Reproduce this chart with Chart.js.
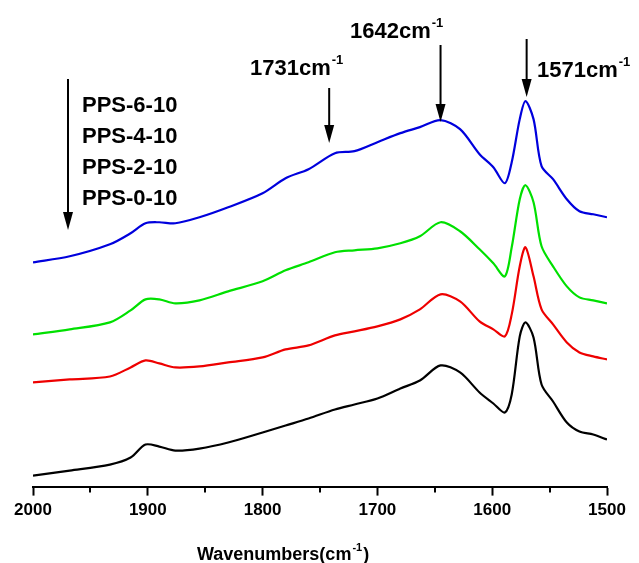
<!DOCTYPE html>
<html>
<head>
<meta charset="utf-8">
<script src="https://cdn.jsdelivr.net/npm/chart.js@4/dist/chart.umd.min.js"></script>
<style>
  html, body { margin: 0; padding: 0; background: #fff; }
  #wrap { width: 639px; height: 563px; position: relative; }
</style>
</head>
<body>
<div id="wrap"><canvas id="ftir"></canvas></div>
<script>
// --- FTIR spectra, values (arbitrary absorbance units) ---
const wavenumbers = [2000, 1968, 1933, 1915, 1902, 1890, 1876, 1855, 1830, 1800, 1780, 1760, 1737, 1720, 1700, 1680,
  1663, 1645, 1628, 1611, 1599, 1589, 1583, 1576, 1571, 1564, 1557, 1547, 1535, 1524, 1512, 1500];

const pps0 = [11, 16, 22, 29, 42, 40, 36, 38, 44, 54, 61, 68, 77, 82, 88, 98,
  106, 121, 114, 94, 83, 74, 92, 150, 164, 149, 102, 85, 64, 55, 52, 47];
const pps2 = [104, 107, 110, 119, 126, 123, 119, 120, 124, 129, 137, 141, 151, 155, 160, 167,
  177, 192, 185, 165, 157, 150, 172, 220, 239, 210, 177, 162, 144, 134, 130, 127];
const pps4 = [152, 157, 164, 176, 187, 187, 183, 186, 195, 205, 216, 224, 234, 236, 238, 243,
  250, 264, 255, 237, 223, 210, 239, 287, 301, 284, 240, 220, 200, 189, 186, 183];
const pps6 = [224, 230, 242, 253, 263, 264, 263, 269, 279, 293, 308, 317, 333, 335, 344, 353,
  359, 366, 357, 332, 319, 303, 324, 367, 385, 367, 320, 307, 287, 275, 272, 269];

const seriesNames = ['PPS-0-10', 'PPS-2-10', 'PPS-4-10', 'PPS-6-10'];
const seriesColors = ['#000000', '#ee0000', '#00e000', '#0000dd'];
const minorTicks = [1950, 1850, 1750, 1650, 1550];
const peakLabels = ['1731', '1642', '1571'];
const peakArrowsAt = [1742, 1645, 1570];

function toPoints(ys) {
  return wavenumbers.map((w, i) => ({ x: w, y: ys[i] }));
}

// text with a small raised part, e.g. cm^-1
function drawSup(ctx, main, sup, x, y, size) {
  const big = 'bold ' + size + 'px "Liberation Sans", Arial, sans-serif';
  const small = 'bold ' + Math.round(size * 0.6) + 'px "Liberation Sans", Arial, sans-serif';
  ctx.textAlign = 'left';
  ctx.textBaseline = 'alphabetic';
  ctx.font = big;
  const w1 = ctx.measureText(main).width;
  ctx.fillText(main, x, y);
  ctx.font = small;
  const w2 = ctx.measureText(sup).width;
  ctx.fillText(sup, x + w1 + 1, y - size * 0.5);
  return x + w1 + w2 + 1;
}

function drawArrow(ctx, x, y1, y2, headLen, headW) {
  ctx.beginPath();
  ctx.moveTo(x, y1);
  ctx.lineTo(x, y2 - headLen + 2);
  ctx.stroke();
  ctx.beginPath();
  ctx.moveTo(x - headW / 2, y2 - headLen);
  ctx.lineTo(x + headW / 2, y2 - headLen);
  ctx.lineTo(x, y2);
  ctx.closePath();
  ctx.fill();
}

const annotations = {
  id: 'annotations',
  afterDraw(chart) {
    const ctx = chart.ctx;
    const xs = chart.scales.x;
    ctx.save();
    ctx.strokeStyle = '#000';
    ctx.fillStyle = '#000';
    ctx.lineWidth = 2;

    // minor ticks
    minorTicks.forEach(v => {
      const px = Math.round(xs.getPixelForValue(v));
      ctx.beginPath();
      ctx.moveTo(px, xs.top);
      ctx.lineTo(px, xs.top + 6);
      ctx.stroke();
    });

    // series order arrow and names
    drawArrow(ctx, xs.getPixelForValue(1969.5), 79, 230, 18, 10);
    ctx.font = 'bold 22px "Liberation Sans", Arial, sans-serif';
    ctx.textAlign = 'left';
    ctx.textBaseline = 'alphabetic';
    const order = seriesNames.slice().reverse();
    order.forEach((name, i) => ctx.fillText(name, 82, 112 + i * 31));

    // peak markers
    const arrowY = [[88, 143], [45, 122], [39, 97]];
    const textPos = [[250, 75], [350, 38], [537, 77]];
    peakLabels.forEach((lbl, i) => {
      drawArrow(ctx, xs.getPixelForValue(peakArrowsAt[i]), arrowY[i][0], arrowY[i][1], 18, 10);
      drawSup(ctx, lbl + 'cm', '-1', textPos[i][0], textPos[i][1], 22);
    });

    // axis title
    const end = drawSup(ctx, 'Wavenumbers(cm', '-1', 197, 560, 18);
    ctx.font = 'bold 18px "Liberation Sans", Arial, sans-serif';
    ctx.fillText(')', end + 1, 560);
    ctx.restore();
  }
};

const datasets = [pps0, pps2, pps4, pps6].map((ys, i) => ({
  label: seriesNames[i],
  data: toPoints(ys),
  borderColor: seriesColors[i],
  borderWidth: 2.2,
  pointRadius: 0,
  fill: false,
  tension: 0.3
}));

new Chart(document.getElementById('ftir'), {
  type: 'line',
  data: { datasets },
  options: {
    responsive: true,
    maintainAspectRatio: false,
    animation: false,
    layout: { padding: { left: 33, right: 32, top: 20, bottom: 37 } },
    plugins: { legend: { display: false }, tooltip: { enabled: false } },
    scales: {
      x: {
        type: 'linear',
        reverse: true,
        min: 1500,
        max: 2000,
        ticks: {
          stepSize: 100,
          color: '#000',
          padding: 5,
          maxRotation: 0,
          callback: v => String(v),
          font: { family: '"Liberation Sans", Arial, sans-serif', size: 17, weight: 'bold' }
        },
        grid: { drawOnChartArea: false, drawTicks: true, tickLength: 9, tickWidth: 2, color: '#000' },
        border: { display: true, color: '#000', width: 2 }
      },
      y: { display: false, min: 0, max: 466 }
    }
  },
  plugins: [annotations]
});
</script>
</body>
</html>
